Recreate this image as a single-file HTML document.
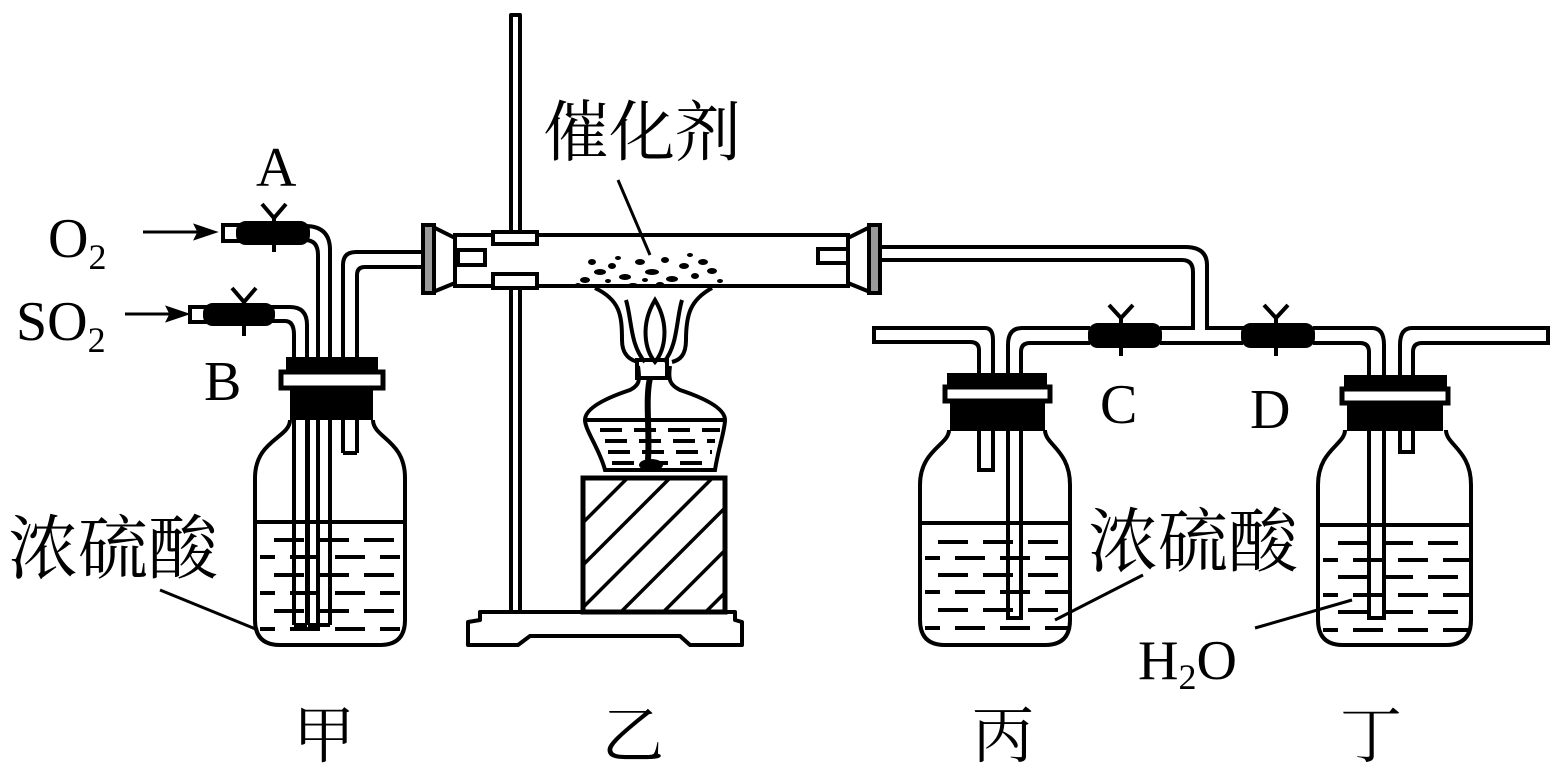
<!DOCTYPE html>
<html><head><meta charset="utf-8"><style>
html,body{margin:0;padding:0;background:#fff}
svg{display:block}
.t{font-family:"Liberation Serif","Noto Serif CJK SC",serif;fill:#000}
.c{font-family:"Liberation Serif","Noto Serif CJK SC","Noto Sans CJK SC",serif;fill:#000}
</style></head><body>
<svg width="1559" height="779" viewBox="0 0 1559 779" xmlns="http://www.w3.org/2000/svg">
<defs>
<pattern id="hat" width="30" height="30" patternUnits="userSpaceOnUse" patternTransform="rotate(45)">
<line x1="0" y1="0" x2="0" y2="30" stroke="#000" stroke-width="7"/>
</pattern>
</defs>
<g fill="none" stroke="#000" stroke-width="4" stroke-linejoin="round">
<rect x="511" y="15" width="9" height="600" fill="#fff"/>
<path d="M480,612 L735,612 L735,620 L742,622 L742,645 L690,645 L680,636 L530,636 L518,645 L468,645 L468,622 L480,620 Z" fill="#fff"/>
<path d="M343,453 L343,265 Q343,252 356,252 L422,252" />
<path d="M357,453 L357,275 Q357,267 365,267 L422,267" />
<line x1="343" y1="453" x2="357" y2="453"/>
<path d="M238,226 L305,226 Q330,226 330,250 L330,625"/>
<path d="M238,240 L305,240 Q318,240 318,255 L318,625"/>
<line x1="308" y1="360" x2="308" y2="625"/>
<line x1="308" y1="625" x2="330" y2="625"/>
<path d="M205,307 L290,307 Q307,307 307,325 L307,625"/>
<path d="M205,321 L285,321 Q294,321 294,335 L294,625"/>
<line x1="294" y1="625" x2="307" y2="625"/>
<path d="M290,420 C290,438 255,440 255,478 L255,620 Q255,645 280,645 L380,645 Q405,645 405,620 L405,478 C405,440 373,438 373,420" fill="none"/>
<line x1="256" y1="522" x2="404" y2="522"/>
</g>
<g stroke="#000" stroke-width="4" stroke-dasharray="30,15">
<line x1="274" y1="540" x2="400" y2="540"/>
<line x1="260" y1="557" x2="400" y2="557" stroke-dashoffset="15"/>
<line x1="274" y1="575" x2="400" y2="575"/>
<line x1="260" y1="593" x2="400" y2="593" stroke-dashoffset="15"/>
<line x1="274" y1="611" x2="400" y2="611"/>
<line x1="260" y1="629" x2="400" y2="629" stroke-dashoffset="15"/>
</g>
<g fill="#000">
<rect x="286" y="357" width="92" height="15"/>
<rect x="281" y="372" width="102" height="16" fill="#fff" stroke="#000" stroke-width="5"/>
<rect x="290" y="388" width="83" height="32"/>
</g>
<g stroke="#000" stroke-width="4">
<rect x="223" y="225" width="16" height="16" fill="#fff"/>
<rect x="238" y="223" width="70" height="20" rx="8" fill="#000"/>
<path d="M262,204 L274,218 L286,204 M274,218 L274,252" fill="none"/>
<rect x="190" y="307" width="16" height="15" fill="#fff"/>
<rect x="205" y="305" width="68" height="19" rx="8" fill="#000"/>
<path d="M232,288 L244,302 L256,288 M244,302 L244,336" fill="none"/>
</g>
<g stroke="#000" stroke-width="3" fill="#000">
<line x1="143" y1="232" x2="200" y2="232"/><path d="M214,232 L196,226 L199,232 L196,238 Z"/>
<line x1="125" y1="314" x2="172" y2="314"/><path d="M186,314 L168,308 L171,314 L168,320 Z"/>
</g>
<g stroke="#000" stroke-width="4" fill="#fff">
<rect x="455" y="235" width="393" height="51"/>
<path d="M433,227 L455,238 L455,283 L433,292 Z"/>
<rect x="423" y="225" width="11" height="68" fill="#999"/>
<path d="M870,227 L848,238 L848,283 L870,292 Z"/>
<rect x="869" y="225" width="11" height="68" fill="#999"/>
<rect x="458" y="250" width="27" height="15"/>
<rect x="818" y="249" width="30" height="14"/>
<rect x="493" y="232" width="44" height="12"/>
<rect x="493" y="274" width="44" height="14"/>
</g>
<g fill="#000">
<ellipse cx="585" cy="280" rx="5" ry="3"/><ellipse cx="600" cy="272" rx="6" ry="3"/><ellipse cx="612" cy="266" rx="4" ry="3"/>
<ellipse cx="625" cy="277" rx="6" ry="3"/><ellipse cx="640" cy="262" rx="5" ry="3"/><ellipse cx="652" cy="272" rx="7" ry="3"/>
<ellipse cx="665" cy="260" rx="4" ry="3"/><ellipse cx="672" cy="279" rx="6" ry="3"/><ellipse cx="684" cy="266" rx="5" ry="3"/>
<ellipse cx="695" cy="276" rx="4" ry="3"/><ellipse cx="703" cy="262" rx="5" ry="3"/><ellipse cx="712" cy="271" rx="5" ry="3"/>
<ellipse cx="592" cy="262" rx="4" ry="3"/><ellipse cx="633" cy="285" rx="5" ry="2"/><ellipse cx="660" cy="284" rx="4" ry="2"/>
<ellipse cx="618" cy="258" rx="3" ry="2"/><ellipse cx="690" cy="255" rx="3" ry="2"/><ellipse cx="578" cy="285" rx="3" ry="2"/>
<ellipse cx="720" cy="281" rx="3" ry="2"/><ellipse cx="645" cy="280" rx="3" ry="2"/><ellipse cx="608" cy="281" rx="3" ry="2"/>
</g>
<g fill="none" stroke="#000" stroke-width="4">
<path d="M595,288 C620,300 622,315 622,340 C622,355 630,360 638,362"/>
<path d="M712,288 C690,300 686,315 686,340 C686,355 680,360 672,362"/>
<path d="M626,300 C632,320 630,345 645,362"/>
<path d="M682,300 C676,320 678,345 664,362"/>
<path d="M655,300 C640,325 645,350 655,362 C665,350 670,325 655,300Z"/>
<rect x="637" y="360" width="30" height="18"/>
<path d="M638,366 C640,380 640,385 630,390 C600,400 585,410 585,420 C585,430 600,450 605,470 L715,470 C718,450 725,430 725,420 C725,410 710,400 680,390 C670,385 668,380 670,366"/>
<line x1="586" y1="420" x2="724" y2="420"/>
<path d="M650,378 C645,400 650,430 648,460" stroke-width="6"/>
</g>
<ellipse cx="651" cy="465" rx="12" ry="6"/>
<g stroke="#000" stroke-width="4" stroke-dasharray="22,12">
<line x1="600" y1="430" x2="720" y2="430"/>
<line x1="605" y1="441" x2="715" y2="441"/>
<line x1="608" y1="452" x2="712" y2="452"/>
<line x1="612" y1="463" x2="708" y2="463"/>
</g>
<rect x="583" y="478" width="142" height="134" fill="url(#hat)" stroke="#000" stroke-width="5"/>
<g fill="none" stroke="#000" stroke-width="4">
<path d="M880,247 L1185,247 Q1207,247 1207,265 L1207,328 L1245,328"/>
<path d="M880,260 L1182,260 Q1193,260 1193,272 L1193,328 L1160,328"/>
<line x1="1160" y1="343" x2="1243" y2="343"/>
<path d="M874,328 L985,328 Q993,328 993,340 L993,470 L979,470 L979,350 Q979,342 970,342 L874,342 Z" fill="#fff"/>
<path d="M1090,328 L1022,328 Q1008,328 1008,345 L1008,618 L1021,618 L1021,352 Q1021,343 1030,343 L1090,343"/>
<path d="M1313,328 L1372,328 Q1384,328 1384,345 L1384,618 L1369,618 L1369,352 Q1369,343 1360,343 L1313,343"/>
<path d="M1548,328 L1412,328 Q1400,328 1400,345 L1400,452 L1413,452 L1413,352 Q1413,343 1422,343 L1548,343 Z" fill="#fff"/>
<path d="M949,430 C949,445 920,450 920,485 L920,620 Q920,645 945,645 L1045,645 Q1070,645 1070,620 L1070,485 C1070,450 1045,445 1045,430"/>
<line x1="921" y1="523" x2="1069" y2="523"/>
<path d="M1345,430 C1345,445 1318,450 1318,485 L1318,620 Q1318,645 1343,645 L1446,645 Q1471,645 1471,620 L1471,485 C1471,450 1446,445 1446,430"/>
<line x1="1319" y1="525" x2="1470" y2="525"/>
</g>
<g stroke="#000" stroke-width="4" stroke-dasharray="30,15">
<line x1="938" y1="542" x2="1068" y2="542"/>
<line x1="925" y1="558" x2="1068" y2="558" stroke-dashoffset="15"/>
<line x1="938" y1="575" x2="1068" y2="575"/>
<line x1="925" y1="592" x2="1068" y2="592" stroke-dashoffset="15"/>
<line x1="938" y1="610" x2="1068" y2="610"/>
<line x1="925" y1="628" x2="1068" y2="628" stroke-dashoffset="15"/>
<line x1="1338" y1="543" x2="1469" y2="543"/>
<line x1="1323" y1="560" x2="1469" y2="560" stroke-dashoffset="15"/>
<line x1="1338" y1="577" x2="1469" y2="577"/>
<line x1="1323" y1="595" x2="1469" y2="595" stroke-dashoffset="15"/>
<line x1="1338" y1="612" x2="1469" y2="612"/>
<line x1="1323" y1="630" x2="1469" y2="630" stroke-dashoffset="15"/>
</g>
<g fill="#000">
<rect x="947" y="373" width="100" height="14"/>
<rect x="945" y="387" width="105" height="14" fill="#fff" stroke="#000" stroke-width="5"/>
<rect x="950" y="401" width="95" height="30"/>
<rect x="1344" y="375" width="103" height="14"/>
<rect x="1342" y="389" width="106" height="14" fill="#fff" stroke="#000" stroke-width="5"/>
<rect x="1347" y="403" width="96" height="28"/>
</g>
<g stroke="#000" stroke-width="4">
<rect x="1090" y="325" width="70" height="21" rx="8" fill="#000"/>
<path d="M1109,305 L1121,318 L1133,305 M1121,318 L1121,356" fill="none"/>
<rect x="1243" y="325" width="70" height="21" rx="8" fill="#000"/>
<path d="M1264,305 L1276,318 L1288,305 M1276,318 L1276,356" fill="none"/>
</g>
<g stroke="#000" stroke-width="3">
<line x1="160" y1="590" x2="258" y2="630"/>
<line x1="618" y1="180" x2="650" y2="255"/>
<line x1="1143" y1="575" x2="1055" y2="620"/>
<line x1="1255" y1="628" x2="1352" y2="600"/>
</g>
<text class="t" x="256" y="186" font-size="56">A</text>
<text class="t" x="204" y="400" font-size="56">B</text>
<text class="t" x="1100" y="423" font-size="56">C</text>
<text class="t" x="1250" y="428" font-size="56">D</text>
<text class="t" x="48" y="257" font-size="56">O<tspan font-size="36" dy="12">2</tspan></text>
<text class="t" x="16" y="340" font-size="56">SO<tspan font-size="36" dy="12">2</tspan></text>
<text class="t" x="1138" y="679" font-size="56">H<tspan font-size="36" dy="10">2</tspan><tspan dy="-10">O</tspan></text>
<text class="c" x="543" y="155" font-size="66">催化剂</text>
<text class="c" x="8" y="573" font-size="70">浓硫酸</text>
<text class="c" x="1088" y="566" font-size="70">浓硫酸</text>
<text class="c" x="293" y="757" font-size="62">甲</text>
<text class="c" x="602" y="757" font-size="62">乙</text>
<text class="c" x="972" y="757" font-size="62">丙</text>
<text class="c" x="1340" y="757" font-size="62">丁</text>
</svg>
</body></html>
